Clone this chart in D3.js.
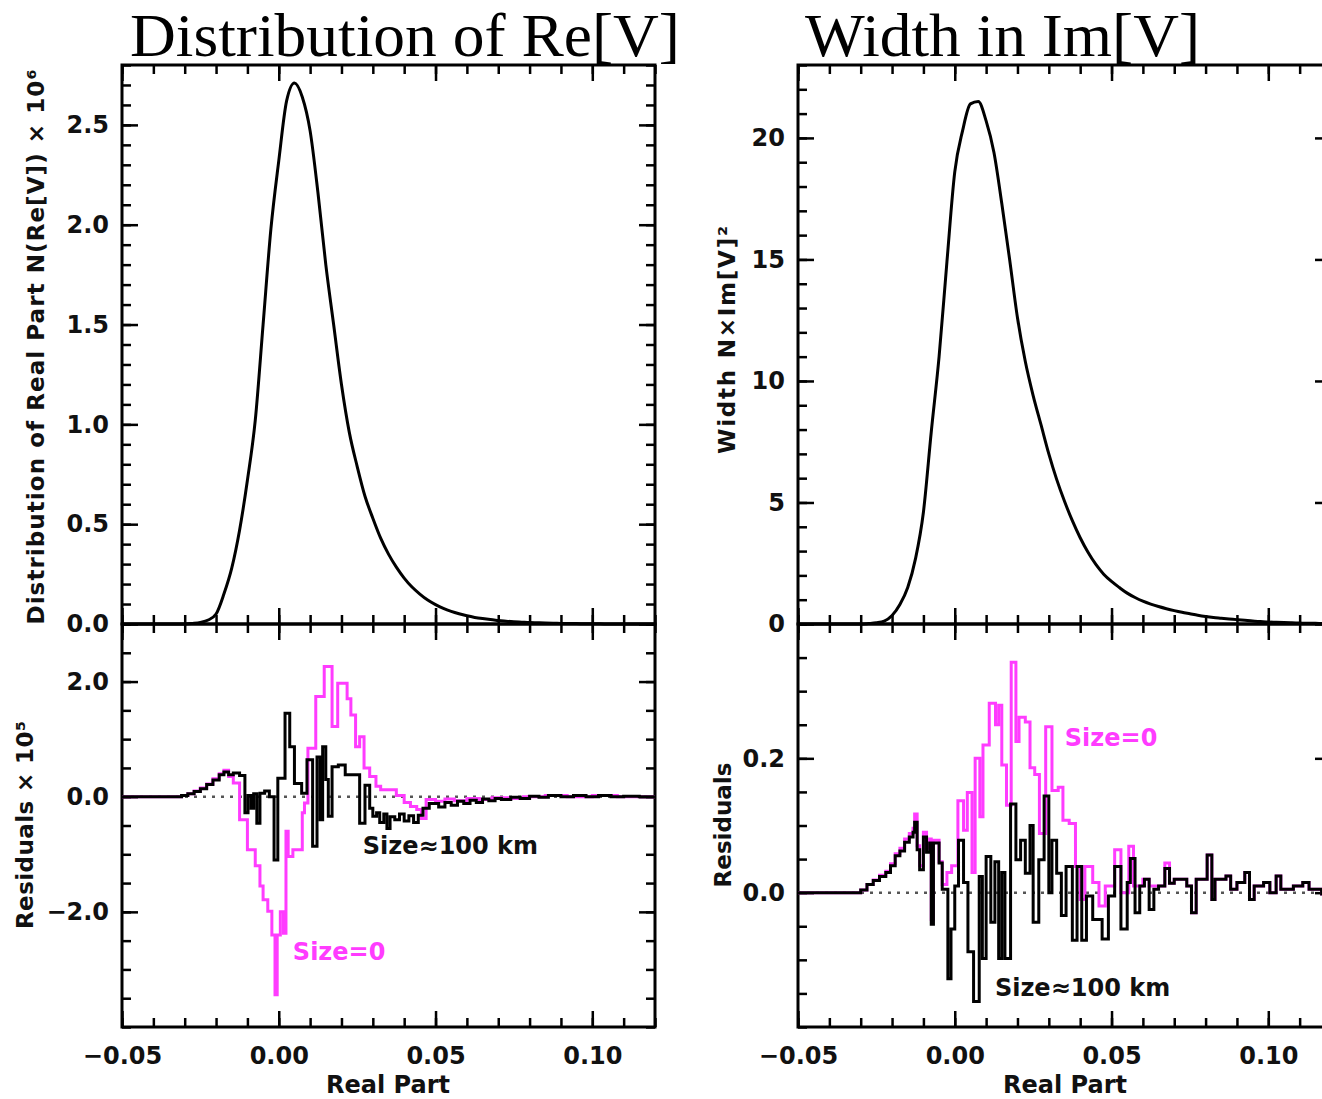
<!DOCTYPE html>
<html>
<head>
<meta charset="utf-8">
<script src="https://cdn.jsdelivr.net/npm/d3@7"></script>
<style>
  body { margin: 0; background: #fff; }
</style>
</head>
<body>
<svg id="fig" width="1322" height="1099"></svg>
<script>
// ---- data ----
var xDomain = [-0.05, 0.12];
var binStart = -0.05, binWidth = 0.0025;

// N(Re[V]) x 1e6, one value per bin of width 0.0025 starting at -0.05
var distRe = [
  0, 0, 0, 0, 0, 0, 0, 0, 0, 0.003, 0.008,
  0.02, 0.05, 0.15, 0.28, 0.47, 0.72, 1.02, 1.50, 1.98,
  2.32, 2.62, 2.71, 2.64, 2.47, 2.16, 1.80, 1.50, 1.20, 0.96,
  0.79, 0.64, 0.53, 0.43, 0.35, 0.285, 0.23, 0.185, 0.15, 0.12,
  0.097, 0.078, 0.063, 0.051, 0.041, 0.033, 0.027, 0.022, 0.018, 0.014,
  0.011, 0.009, 0.007, 0.006, 0.005, 0.004, 0.003, 0.002, 0.002, 0.001,
  0.001, 0.001, 0, 0, 0, 0, 0, 0, 0
];

// N x Im[V]^2, same bins
var widthIm = [
  0, 0, 0, 0, 0, 0, 0, 0, 0, 0.02, 0.05,
  0.12, 0.35, 0.8, 1.5, 2.7, 4.6, 7.9, 11.0, 14.9,
  18.6, 20.3, 21.4, 21.5, 20.7, 19.4, 17.3, 15.0, 12.6, 10.8,
  9.4, 8.2, 7.0, 5.95, 5.05, 4.25, 3.55, 2.95, 2.45, 2.05,
  1.75, 1.5, 1.27, 1.09, 0.94, 0.82, 0.72, 0.63, 0.55, 0.48,
  0.42, 0.36, 0.31, 0.27, 0.24, 0.21, 0.18, 0.15, 0.12, 0.10,
  0.08, 0.07, 0.06, 0.05, 0.04, 0.03, 0.03, 0.02, 0.02
];

// residuals x 1e5, [real part, value] step points
var residReKm = [
  [-0.050, 0.00], [-0.031, 0.02], [-0.029, 0.05], [-0.027, 0.09], [-0.025, 0.14],
  [-0.023, 0.21], [-0.021, 0.29], [-0.019, 0.38], [-0.0175, 0.43], [-0.016, 0.38],
  [-0.0145, 0.41], [-0.0125, 0.37], [-0.0108, -0.28], [-0.0098, 0.02], [-0.0088, -0.20],
  [-0.0080, 0.05], [-0.0070, -0.46], [-0.0060, 0.06], [-0.0045, 0.10], [-0.0030, 0.00],
  [-0.0015, -1.10], [-0.0003, 0.32], [0.0020, 1.45], [0.0035, 0.87], [0.0050, 0.23],
  [0.0073, 0.06], [0.0090, 0.64], [0.0108, -0.86], [0.0122, 0.69], [0.0132, -0.40],
  [0.0140, 0.87], [0.0150, 0.30], [0.0158, -0.34], [0.0170, 0.52], [0.0190, 0.55],
  [0.0212, 0.38], [0.0258, -0.46], [0.0275, 0.20], [0.0290, -0.20], [0.0300, -0.34],
  [0.0312, -0.28], [0.0322, -0.45], [0.0335, -0.30], [0.0345, -0.55], [0.0355, -0.35],
  [0.0370, -0.40], [0.0385, -0.30], [0.0400, -0.42], [0.0415, -0.33], [0.0430, -0.45],
  [0.0445, -0.32], [0.0460, -0.20], [0.0480, -0.12], [0.0510, -0.18], [0.0530, -0.10],
  [0.0550, -0.15], [0.0570, -0.08], [0.0590, -0.12], [0.0610, -0.06], [0.0630, -0.10],
  [0.0650, -0.04], [0.0670, -0.07], [0.0690, -0.03], [0.0710, -0.05], [0.0740, -0.01],
  [0.0770, -0.03], [0.0800, 0.01], [0.0830, -0.01], [0.0860, 0.02], [0.0900, 0.00],
  [0.0940, 0.02], [0.0980, 0.00], [0.1020, 0.02], [0.1060, 0.00], [0.1100, 0.01],
  [0.1150, 0.00], [0.1200, 0.00]
];

var residReZero = [
  [-0.050, 0.00], [-0.031, 0.02], [-0.029, 0.05], [-0.027, 0.10], [-0.025, 0.15],
  [-0.023, 0.22], [-0.021, 0.31], [-0.019, 0.40], [-0.0175, 0.46], [-0.016, 0.35],
  [-0.0145, 0.24], [-0.0125, -0.40], [-0.0100, -0.92], [-0.0075, -1.20], [-0.0060, -1.55],
  [-0.0050, -1.79], [-0.0035, -1.99], [-0.0022, -2.40], [-0.0012, -3.44], [-0.0005, -2.40],
  [0.0005, -2.00], [0.0015, -2.37], [0.0023, -0.60], [0.0030, -1.04], [0.0045, -0.92],
  [0.0075, -0.28], [0.0082, -0.11], [0.0093, 0.84], [0.0118, 1.74], [0.0145, 2.26],
  [0.0170, 1.22], [0.0188, 1.97], [0.0218, 1.70], [0.0230, 1.42], [0.0245, 0.87],
  [0.0258, 1.04], [0.0272, 0.50], [0.0290, 0.35], [0.0310, 0.18], [0.0325, 0.12],
  [0.0375, 0.02], [0.0400, -0.10], [0.0420, -0.17], [0.0440, -0.22], [0.0455, -0.38],
  [0.0470, -0.05], [0.0500, -0.08], [0.0530, -0.04], [0.0560, -0.07], [0.0600, -0.03],
  [0.0640, -0.05], [0.0680, -0.02], [0.0730, -0.03], [0.0780, 0.00], [0.0850, 0.02],
  [0.0920, 0.00], [0.1000, 0.02], [0.1080, 0.00], [0.1200, 0.00]
];

var residImKm = [
  [-0.0500, 0.000], [-0.0300, 0.004], [-0.0280, 0.012], [-0.0260, 0.018], [-0.0240, 0.024],
  [-0.0220, 0.030], [-0.0205, 0.040], [-0.0190, 0.055], [-0.0175, 0.062], [-0.0160, 0.075],
  [-0.0145, 0.083], [-0.0133, 0.090], [-0.0128, 0.105], [-0.0120, 0.064], [-0.0112, 0.034],
  [-0.0100, 0.083], [-0.0090, 0.060], [-0.0080, 0.074], [-0.0075, -0.047], [-0.0068, 0.074],
  [-0.0050, 0.044], [-0.0040, 0.005], [-0.0022, -0.128], [-0.0012, -0.054], [0.0000, 0.010],
  [0.0012, 0.078], [0.0028, 0.015], [0.0042, -0.088], [0.0060, -0.162], [0.0078, 0.024],
  [0.0088, -0.098], [0.0100, 0.054], [0.0115, -0.044], [0.0128, 0.046], [0.0140, -0.098],
  [0.0150, 0.030], [0.0160, -0.098], [0.0178, 0.132], [0.0195, 0.049], [0.0210, 0.078],
  [0.0225, 0.029], [0.0240, 0.100], [0.0250, -0.044], [0.0268, 0.049], [0.0285, 0.144],
  [0.0300, 0.000], [0.0310, 0.078], [0.0325, 0.029], [0.0340, -0.034], [0.0355, 0.039],
  [0.0375, -0.071], [0.0390, 0.039], [0.0405, -0.071], [0.0420, -0.005], [0.0440, -0.040],
  [0.0470, -0.069], [0.0490, -0.005], [0.0510, 0.039], [0.0530, -0.054], [0.0550, 0.015],
  [0.0560, 0.051], [0.0575, -0.030], [0.0590, 0.010], [0.0605, 0.020], [0.0620, -0.025],
  [0.0635, 0.005], [0.0650, 0.010], [0.0670, 0.036], [0.0685, 0.014], [0.0700, 0.020],
  [0.0740, 0.010], [0.0755, -0.030], [0.0770, 0.020], [0.0805, 0.056], [0.0820, -0.010],
  [0.0830, 0.020], [0.0865, 0.025], [0.0880, 0.005], [0.0900, 0.015], [0.0925, 0.030],
  [0.0940, -0.010], [0.0955, 0.010], [0.0985, 0.015], [0.1005, 0.000], [0.1025, 0.025],
  [0.1040, 0.005], [0.1080, 0.010], [0.1110, 0.015], [0.1130, 0.005], [0.1170, -0.002],
  [0.1200, 0.000]
];

var residImZero = [
  [-0.0500, 0.000], [-0.0300, 0.004], [-0.0280, 0.012], [-0.0260, 0.019], [-0.0240, 0.026],
  [-0.0220, 0.032], [-0.0205, 0.043], [-0.0190, 0.058], [-0.0175, 0.066], [-0.0160, 0.080],
  [-0.0145, 0.088], [-0.0133, 0.096], [-0.0128, 0.117], [-0.0120, 0.070], [-0.0112, 0.040],
  [-0.0100, 0.090], [-0.0090, 0.066], [-0.0080, 0.080], [-0.0075, -0.040], [-0.0068, 0.078],
  [-0.0050, 0.046], [-0.0040, 0.012], [-0.0025, 0.030], [-0.0010, 0.040], [0.0010, 0.137],
  [0.0028, 0.093], [0.0040, 0.149], [0.0055, 0.030], [0.0065, 0.200], [0.0080, 0.113],
  [0.0090, 0.220], [0.0110, 0.282], [0.0130, 0.250], [0.0140, 0.279], [0.0150, 0.190],
  [0.0165, 0.130], [0.0180, 0.343], [0.0195, 0.225], [0.0205, 0.261], [0.0225, 0.254],
  [0.0240, 0.186], [0.0255, 0.176], [0.0270, 0.088], [0.0290, 0.247], [0.0310, 0.152],
  [0.0330, 0.157], [0.0345, 0.108], [0.0365, 0.103], [0.0385, 0.039], [0.0400, -0.010],
  [0.0415, 0.039], [0.0440, 0.015], [0.0460, -0.020], [0.0480, 0.010], [0.0510, 0.064],
  [0.0530, 0.000], [0.0555, 0.069], [0.0570, 0.010], [0.0600, 0.020], [0.0620, 0.010],
  [0.0670, 0.044], [0.0685, 0.014], [0.0700, 0.020], [0.0740, 0.010], [0.0755, -0.030],
  [0.0770, 0.020], [0.0805, 0.056], [0.0820, -0.010], [0.0830, 0.020], [0.0865, 0.025],
  [0.0880, 0.005], [0.0900, 0.015], [0.0925, 0.030], [0.0940, -0.010], [0.0955, 0.010],
  [0.0985, 0.015], [0.1005, 0.000], [0.1025, 0.025], [0.1040, 0.005], [0.1080, 0.010],
  [0.1110, 0.015], [0.1130, 0.005], [0.1170, -0.002], [0.1200, 0.000]
];

// ticks
var xTickValues = [-0.05, 0, 0.05, 0.10];
var xTickLabels = ["\u22120.05", "0.00", "0.05", "0.10"];
var distTickValues = [0, 0.5, 1.0, 1.5, 2.0, 2.5];
var distTickLabels = ["0.0", "0.5", "1.0", "1.5", "2.0", "2.5"];
var residReTickValues = [-2, 0, 2];
var residReTickLabels = ["\u22122.0", "0.0", "2.0"];
var widthTickValues = [0, 5, 10, 15, 20];
var widthTickLabels = ["0", "5", "10", "15", "20"];
var residImTickValues = [0, 0.2];
var residImTickLabels = ["0.0", "0.2"];

var svg = d3.select("#fig");
var tickFont = "'DejaVu Sans', sans-serif";
var pink = "#ff3cff";

var plotW = 533, topY = 65, midY = 624, botY = 1027;
var majorLen = 16, minorLen = 9;

function addTicks(g, axisFn, scale, values, len, tx, ty, labels, pad) {
    var ax = axisFn(scale).tickValues(values).tickSize(-len)
        .tickPadding(pad || 12)
        .tickFormat(function(d, i) { return labels ? labels[i] : ""; });
    var a = g.append("g")
        .attr("transform", "translate(" + tx + "," + ty + ")")
        .call(ax);
    a.select(".domain").remove();
    a.selectAll("line").attr("stroke", "#000").attr("stroke-width", 2.5);
    a.selectAll("text")
        .attr("fill", "#111")
        .style("font-family", tickFont)
        .style("font-weight", "bold")
        .style("font-size", "24px");
    return a;
}

function framedAxes(g, x, y, left, top, bottom, yMajor, yLabels, minorCount, xLabels) {
    var right = left + plotW;
    var xMinor = x.ticks(17);
    var yMinor = y.ticks(minorCount);
    // bottom
    addTicks(g, d3.axisBottom, x, xMinor, minorLen, 0, bottom);
    addTicks(g, d3.axisBottom, x, xTickValues, majorLen, 0, bottom, xLabels, 20);
    // top
    addTicks(g, d3.axisTop, x, xMinor, minorLen, 0, top);
    addTicks(g, d3.axisTop, x, xTickValues, majorLen, 0, top);
    // left
    addTicks(g, d3.axisLeft, y, yMinor, minorLen, left, 0);
    addTicks(g, d3.axisLeft, y, yMajor, majorLen, left, 0, yLabels, 13);
    // right
    addTicks(g, d3.axisRight, y, yMinor, minorLen, right, 0);
    addTicks(g, d3.axisRight, y, yMajor, majorLen, right, 0);

    g.append("rect")
        .attr("x", left).attr("y", top)
        .attr("width", plotW).attr("height", bottom - top)
        .attr("fill", "none").attr("stroke", "#000").attr("stroke-width", 3);
}

function drawColumn(left, topData, topDomain, topMajor, topLabels, topMinor,
                    resDomain, resMajor, resLabels, resMinor, resZero, resKm) {
    var x = d3.scaleLinear().domain(xDomain).range([left, left + plotW]);
    var yTop = d3.scaleLinear().domain(topDomain).range([midY, topY]);
    var yRes = d3.scaleLinear().domain(resDomain).range([botY, midY]);

    var g = svg.append("g");
    framedAxes(g, x, yTop, left, topY, midY, topMajor, topLabels, topMinor, null);
    framedAxes(g, x, yRes, left, midY, botY, resMajor, resLabels, resMinor, xTickLabels);

    var bins = topData.map(function(v, i) { return [binStart + i * binWidth, v]; });
    g.append("path")
        .datum(bins)
        .attr("fill", "none").attr("stroke", "#000").attr("stroke-width", 3)
        .attr("stroke-linejoin", "round")
        .attr("d", d3.line()
            .x(function(d) { return x(d[0]); })
            .y(function(d) { return yTop(d[1]); })
            .curve(d3.curveMonotoneX));

    g.append("line")
        .attr("x1", x(xDomain[0])).attr("x2", x(xDomain[1]))
        .attr("y1", yRes(0)).attr("y2", yRes(0))
        .attr("stroke", "#555").attr("stroke-width", 2.5)
        .attr("stroke-dasharray", "3,6");

    var resLine = d3.line()
        .x(function(d) { return x(d[0]); })
        .y(function(d) { return yRes(d[1]); })
        .curve(d3.curveStepAfter);

    g.append("path").datum(resZero)
        .attr("fill", "none").attr("stroke", pink).attr("stroke-width", 3)
        .attr("d", resLine);
    g.append("path").datum(resKm)
        .attr("fill", "none").attr("stroke", "#000").attr("stroke-width", 3)
        .attr("d", resLine);

    return {x: x, yTop: yTop, yRes: yRes};
}

var L = drawColumn(122, distRe, [0, 2.8], distTickValues, distTickLabels, 28,
                   [-4, 3], residReTickValues, residReTickLabels, 14, residReZero, residReKm);
var R = drawColumn(798, widthIm, [0, 23], widthTickValues, widthTickLabels, 23,
                   [-0.2, 0.4], residImTickValues, residImTickLabels, 12, residImZero, residImKm);

// titles
function title(x, txt, len) {
    svg.append("text")
        .attr("x", x).attr("y", 56)
        .attr("textLength", len)
        .attr("lengthAdjust", "spacingAndGlyphs")
        .style("font-family", "'Liberation Serif', 'Times New Roman', serif")
        .style("font-size", "62px")
        .attr("fill", "#000")
        .text(txt);
}
title(130, "Distribution of Re[V]", 550);
title(805, "Width in Im[V]", 395);

// axis labels
function yLabel(x, y, txt, len) {
    var t = svg.append("text")
        .attr("transform", "translate(" + x + "," + y + ") rotate(-90)")
        .attr("text-anchor", "middle")
        .style("font-family", tickFont)
        .style("font-weight", "bold")
        .style("font-size", "23px")
        .attr("fill", "#111")
        .text(txt);
    if (len) t.attr("textLength", len).attr("lengthAdjust", "spacing");
}
yLabel(44, 347, "Distribution of Real Part  N(Re[V]) \u00d7 10\u2076", 555);
yLabel(33, 825, "Residuals \u00d7 10\u2075", 208);
yLabel(735, 340, "Width  N\u00d7Im[V]\u00b2", 228);
yLabel(731, 825, "Residuals");

function xLabel(x, txt) {
    svg.append("text")
        .attr("x", x).attr("y", 1093)
        .attr("text-anchor", "middle")
        .style("font-family", tickFont)
        .style("font-weight", "bold")
        .style("font-size", "24px")
        .attr("fill", "#111")
        .text(txt);
}
xLabel(388, "Real Part");
xLabel(1065, "Real Part");

// curve annotations
function note(x, y, txt, col) {
    svg.append("text")
        .attr("x", x).attr("y", y)
        .style("font-family", tickFont)
        .style("font-weight", "bold")
        .style("font-size", "24px")
        .attr("fill", col)
        .text(txt);
}
note(L.x(0.0268), L.yRes(-1.0), "Size\u2248100 km", "#111");
note(L.x(0.0045), L.yRes(-2.83), "Size=0", pink);
note(R.x(0.0351), R.yRes(0.218), "Size=0", pink);
note(R.x(0.0128), R.yRes(-0.154), "Size\u2248100 km", "#111");
</script>
</body>
</html>
